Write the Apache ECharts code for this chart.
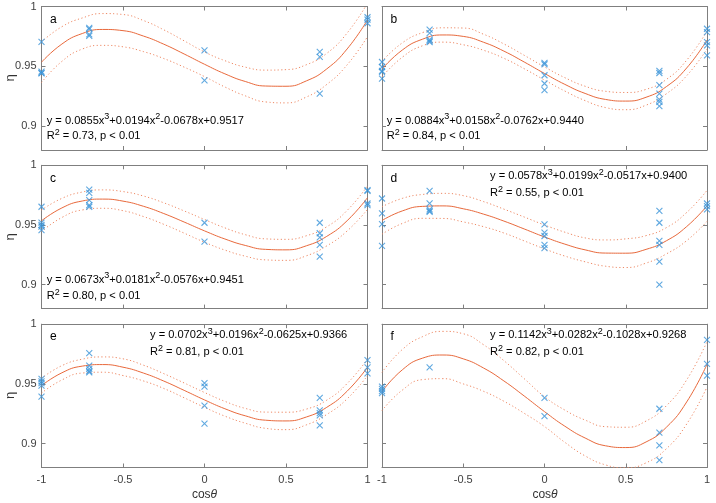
<!DOCTYPE html>
<html><head><meta charset="utf-8">
<script src="https://cdn.jsdelivr.net/npm/echarts@6/dist/echarts.min.js"></script>
<style>html,body{margin:0;padding:0;background:#fff}#c{width:716px;height:503px}</style>
</head><body><div id="c"></div>
<script>
// ---- data ----
const xTickValues = [-1, -0.5, 0, 0.5, 1];
const yTickValues = [0.9, 0.95, 1];
const fitX = [-1,-0.875,-0.75,-0.625,-0.5,-0.375,-0.25,-0.125,0,0.125,0.25,0.375,0.5,0.625,0.75,0.875,1];

const aPoints = [[-1,0.9705],[-1,0.9455],[-1,0.9445],[-1,0.944],[-0.707,0.9822],[-0.707,0.9811],[-0.707,0.9767],[-0.707,0.9755],[0,0.9633],[0,0.9383],[0.707,0.962],[0.707,0.9578],[0.707,0.9272],[1,0.991],[1,0.989],[1,0.986]];
const bPoints = [[-1,0.9536],[-1,0.9494],[-1,0.9461],[-1,0.9453],[-1,0.9397],[-0.707,0.9806],[-0.707,0.9778],[-0.707,0.9722],[-0.707,0.9711],[-0.707,0.9703],[0,0.9528],[0,0.9517],[0,0.9425],[0,0.9356],[0,0.930],[0.707,0.9461],[0.707,0.9444],[0.707,0.9342],[0.707,0.9272],[0.707,0.9222],[0.707,0.9203],[0.707,0.9167],[1,0.9814],[1,0.9786],[1,0.9703],[1,0.9675],[1,0.9592]];
const cPoints = [[-1,0.9653],[-1,0.952],[-1,0.950],[-1,0.9486],[-1,0.9458],[-0.707,0.9797],[-0.707,0.9769],[-0.707,0.9708],[-0.707,0.9667],[-0.707,0.9653],[0,0.9519],[0,0.9361],[0.707,0.9519],[0.707,0.9431],[0.707,0.9397],[0.707,0.9333],[0.707,0.9236],[1,0.9792],[1,0.9786],[1,0.968],[1,0.9667]];
const dPoints = [[-1,0.9722],[-1,0.9597],[-1,0.9508],[-1,0.9325],[-0.707,0.9786],[-0.707,0.9681],[-0.707,0.9631],[-0.707,0.9619],[-0.707,0.9611],[0,0.9506],[0,0.9436],[0,0.9408],[0,0.9333],[0,0.9306],[0.707,0.9619],[0.707,0.9519],[0.707,0.9367],[0.707,0.9333],[0.707,0.9194],[0.707,0.900],[1,0.968],[1,0.9658],[1,0.9631]];
const ePoints = [[-1,0.9542],[-1,0.9522],[-1,0.9506],[-1,0.9486],[-1,0.9394],[-0.707,0.9758],[-0.707,0.9653],[-0.707,0.9625],[-0.707,0.9606],[-0.707,0.9597],[0,0.9506],[0,0.9478],[0,0.9319],[0,0.9167],[0.707,0.9383],[0.707,0.9278],[0.707,0.9256],[0.707,0.9236],[0.707,0.9153],[1,0.970],[1,0.9639],[1,0.9589]];
const fPoints = [[-1,0.9478],[-1,0.9458],[-1,0.9439],[-1,0.9422],[-0.707,0.9639],[0,0.9383],[0,0.9231],[0.707,0.9292],[0.707,0.9092],[0.707,0.8986],[0.707,0.8861],[1,0.9869],[1,0.9667],[1,0.9569]];

const aFit   = [0.9534,0.9686,0.9774,0.9808,0.9798,0.9753,0.9685,0.9603,0.9517,0.9437,0.9373,0.9335,0.9333,0.9378,0.9478,0.9645,0.9888];
const aUpper = [0.9704,0.9831,0.9904,0.9941,0.9933,0.9883,0.9805,0.9713,0.9620,0.9547,0.9493,0.9468,0.9472,0.9513,0.9608,0.9778,1.0028];
const aLower = [0.9364,0.9541,0.9644,0.9675,0.9663,0.9623,0.9565,0.9493,0.9414,0.9327,0.9253,0.9202,0.9194,0.9243,0.9348,0.9512,0.9748];
const bFit   = [0.9476,0.9636,0.9727,0.9762,0.9750,0.9701,0.9627,0.9536,0.9440,0.9349,0.9273,0.9223,0.9209,0.9241,0.9330,0.9486,0.9720];
const bUpper = [0.9541,0.9696,0.9782,0.9822,0.9820,0.9768,0.9687,0.9592,0.9495,0.9405,0.9333,0.9291,0.9281,0.9307,0.9390,0.9551,0.9795];
const bLower = [0.9411,0.9576,0.9672,0.9702,0.9680,0.9634,0.9567,0.9480,0.9385,0.9293,0.9213,0.9155,0.9137,0.9175,0.9270,0.9421,0.9645];
const cFit   = [0.9535,0.9643,0.9701,0.9717,0.9700,0.9657,0.9596,0.9525,0.9451,0.9383,0.9329,0.9296,0.9292,0.9326,0.9405,0.9536,0.9729];
const cUpper = [0.9625,0.9723,0.9776,0.9794,0.9780,0.9743,0.9686,0.9618,0.9546,0.9476,0.9419,0.9384,0.9380,0.9410,0.9485,0.9622,0.9827];
const cLower = [0.9445,0.9563,0.9626,0.9640,0.9620,0.9571,0.9506,0.9432,0.9356,0.9290,0.9239,0.9208,0.9204,0.9242,0.9325,0.9450,0.9631];
const dFit   = [0.9538,0.9618,0.9656,0.9660,0.9636,0.9591,0.9533,0.9467,0.9400,0.9340,0.9292,0.9265,0.9264,0.9296,0.9368,0.9487,0.9660];
const dUpper = [0.9653,0.9723,0.9756,0.9765,0.9746,0.9696,0.9633,0.9567,0.9500,0.9440,0.9392,0.9375,0.9384,0.9411,0.9478,0.9605,0.9790];
const dLower = [0.9423,0.9513,0.9556,0.9555,0.9526,0.9486,0.9433,0.9367,0.9300,0.9240,0.9192,0.9155,0.9144,0.9181,0.9258,0.9369,0.9530];
const eFit   = [0.9485,0.9593,0.9649,0.9662,0.9640,0.9591,0.9524,0.9446,0.9366,0.9292,0.9233,0.9196,0.9190,0.9223,0.9304,0.9439,0.9639];
const eUpper = [0.9547,0.9653,0.9707,0.9726,0.9710,0.9657,0.9586,0.9508,0.9428,0.9354,0.9295,0.9264,0.9263,0.9289,0.9364,0.9503,0.9709];
const eLower = [0.9423,0.9533,0.9591,0.9598,0.9570,0.9525,0.9462,0.9384,0.9304,0.9230,0.9171,0.9128,0.9117,0.9157,0.9244,0.9375,0.9569];
const fFit   = [0.9436,0.9618,0.9716,0.9742,0.9710,0.9633,0.9525,0.9399,0.9268,0.9146,0.9047,0.8982,0.8967,0.9014,0.9137,0.9349,0.9664];
const fUpper = [0.9596,0.9788,0.9896,0.9940,0.9920,0.9828,0.9695,0.9544,0.9393,0.9281,0.9197,0.9142,0.9137,0.9189,0.9317,0.9534,0.9854];
const fLower = [0.9276,0.9448,0.9536,0.9544,0.9500,0.9438,0.9355,0.9254,0.9143,0.9011,0.8897,0.8822,0.8797,0.8839,0.8957,0.9164,0.9474];

const letters = ['a','b','c','d','e','f'];
const eqCoefs = [
  ['0.0855','+0.0194','-0.0678','+0.9517'],
  ['0.0884','+0.0158','-0.0762','+0.9440'],
  ['0.0673','+0.0181','-0.0576','+0.9451'],
  ['0.0578','+0.0199','-0.0517','+0.9400'],
  ['0.0702','+0.0196','-0.0625','+0.9366'],
  ['0.1142','+0.0282','-0.1028','+0.9268']
];
const r2Values = ['0.73','0.84','0.80','0.55','0.81','0.82'];
const pText = 'p < 0.01';
const xLabel = 'cos';
const yLabel = 'η';

// ---- layout / style ----
const FONT = 'Liberation Sans, Arial, sans-serif';
const BLUE = '#3a93d8', RED = '#e8693c', LIGHT = '#ee8a66', AXIS = '#7f7f7f', LABEL = '#404040';
const grids = [
  {left:41.5, top:6.5, width:326, height:143.5},
  {left:382, top:6.5, width:325, height:143.5},
  {left:41.5, top:165.3, width:326, height:143.3},
  {left:382, top:165.3, width:325, height:143.3},
  {left:41.5, top:324.2, width:326, height:143.3},
  {left:382, top:324.2, width:325, height:143.3}
];
const eqPos = [
  {x:46.7, y1:120.5, y2:136.3},
  {x:386.7, y1:120.5, y2:136.3},
  {x:46.7, y1:279.5, y2:296},
  {x:490, y1:176.3, y2:193.3},
  {x:150, y1:335, y2:352.3},
  {x:490, y1:335, y2:352.3}
];
const letterPos = [
  {x:50, y:19.2},{x:390.5, y:19.2},{x:50, y:178.3},{x:390.5, y:178.3},{x:50, y:336.3},{x:390.5, y:336.3}
];
const pointsAll = [aPoints,bPoints,cPoints,dPoints,ePoints,fPoints];
const fitAll = [aFit,bFit,cFit,dFit,eFit,fFit];
const upAll = [aUpper,bUpper,cUpper,dUpper,eUpper,fUpper];
const loAll = [aLower,bLower,cLower,dLower,eLower,fLower];

const pair = arr => fitX.map((x,i)=>[x,arr[i]]);
const richStyle = {
  n:{fontSize:11.1, lineHeight:16, color:'#000', fontWeight:'normal', fontFamily:FONT},
  s:{fontSize:9, lineHeight:7, verticalAlign:'top', color:'#000', fontWeight:'normal', fontFamily:FONT}
};
const xAxes = [], yAxes = [], series = [], titles = [];
grids.forEach((g,i)=>{
  const bottomRow = i>=4, leftCol = i%2===0;
  const axLine = {show:true, onZero:false, lineStyle:{color:AXIS, width:1}};
  const tick = {show:true, inside:true, length:4, lineStyle:{color:AXIS}};
  ['bottom','top'].forEach((pos,k)=>{
    xAxes.push({type:'value', gridIndex:i, position:pos, min:-1, max:1, interval:0.5,
      axisLine:axLine, axisTick:tick, splitLine:{show:false},
      axisLabel:{show: bottomRow && k===0, color:LABEL, fontSize:11, fontFamily:FONT, margin:7,
        customValues:xTickValues}});
  });
  ['left','right'].forEach((pos,k)=>{
    yAxes.push({type:'value', gridIndex:i, position:pos, min:0.88, max:1,
      axisLine:axLine, splitLine:{show:false},
      axisTick:Object.assign({}, tick, {customValues:yTickValues}),
      axisLabel:{show: leftCol && k===0, color:LABEL, fontSize:11, fontFamily:FONT, margin:5,
        customValues:yTickValues}});
  });
  series.push({type:'line', xAxisIndex:2*i, yAxisIndex:2*i, data:pair(upAll[i]), smooth:true,
    showSymbol:false, silent:true, lineStyle:{color:LIGHT, width:1, type:[1.2,2.4]}, z:2});
  series.push({type:'line', xAxisIndex:2*i, yAxisIndex:2*i, data:pair(loAll[i]), smooth:true,
    showSymbol:false, silent:true, lineStyle:{color:LIGHT, width:1, type:[1.2,2.4]}, z:2});
  series.push({type:'line', xAxisIndex:2*i, yAxisIndex:2*i, data:pair(fitAll[i]), smooth:true,
    showSymbol:false, silent:true, lineStyle:{color:RED, width:1}, z:3});
  series.push({type:'scatter', xAxisIndex:2*i, yAxisIndex:2*i, data:pointsAll[i], clip:false,
    symbol:'path://M0,0L10,10M10,0L0,10', symbolSize:6, silent:true, z:4,
    itemStyle:{color:'rgba(0,0,0,0)', borderColor:BLUE, borderWidth:1.1}});
  const c = eqCoefs[i];
  titles.push({left:eqPos[i].x, top:eqPos[i].y1-8, padding:0,
    text:`{n|y = ${c[0]}x}{s|3}{n|${c[1]}x}{s|2}{n|${c[2]}x${c[3]}}`,
    textStyle:{fontWeight:'normal', rich:richStyle}});
  titles.push({left:eqPos[i].x, top:eqPos[i].y2-8, padding:0,
    text:`{n|R}{s|2}{n| = ${r2Values[i]}, ${pText}}`,
    textStyle:{fontWeight:'normal', rich:richStyle}});
  titles.push({left:letterPos[i].x, top:letterPos[i].y-8, padding:0, text:letters[i],
    textStyle:{fontSize:12, lineHeight:16, fontWeight:'normal', color:'#000', fontFamily:FONT}});
});

const graphics = [];
[78, 237, 395.5].forEach(cy=>{
  graphics.push({type:'text', x:10, y:cy, rotation:Math.PI/2,
    style:{text:yLabel, fontSize:13, fill:'#333', fontFamily:FONT, align:'center', verticalAlign:'middle'}});
});
[204.5, 545].forEach(cx=>{
  graphics.push({type:'text', x:cx, y:495, style:{text:'{n|'+xLabel+'}{i|θ}',
    rich:{n:{fontSize:12, fontFamily:FONT, fill:'#333', color:'#333'}, i:{fontSize:12, fontStyle:'italic', fontFamily:FONT, fill:'#333', color:'#333'}},
    align:'center', verticalAlign:'middle'}});
});

const chart = echarts.init(document.getElementById('c'), null, {renderer:'canvas'});
chart.setOption({
  animation:false,
  backgroundColor:'#fff',
  grid:grids,
  xAxis:xAxes,
  yAxis:yAxes,
  title:titles,
  graphic:graphics,
  series:series
});
</script></body></html>
